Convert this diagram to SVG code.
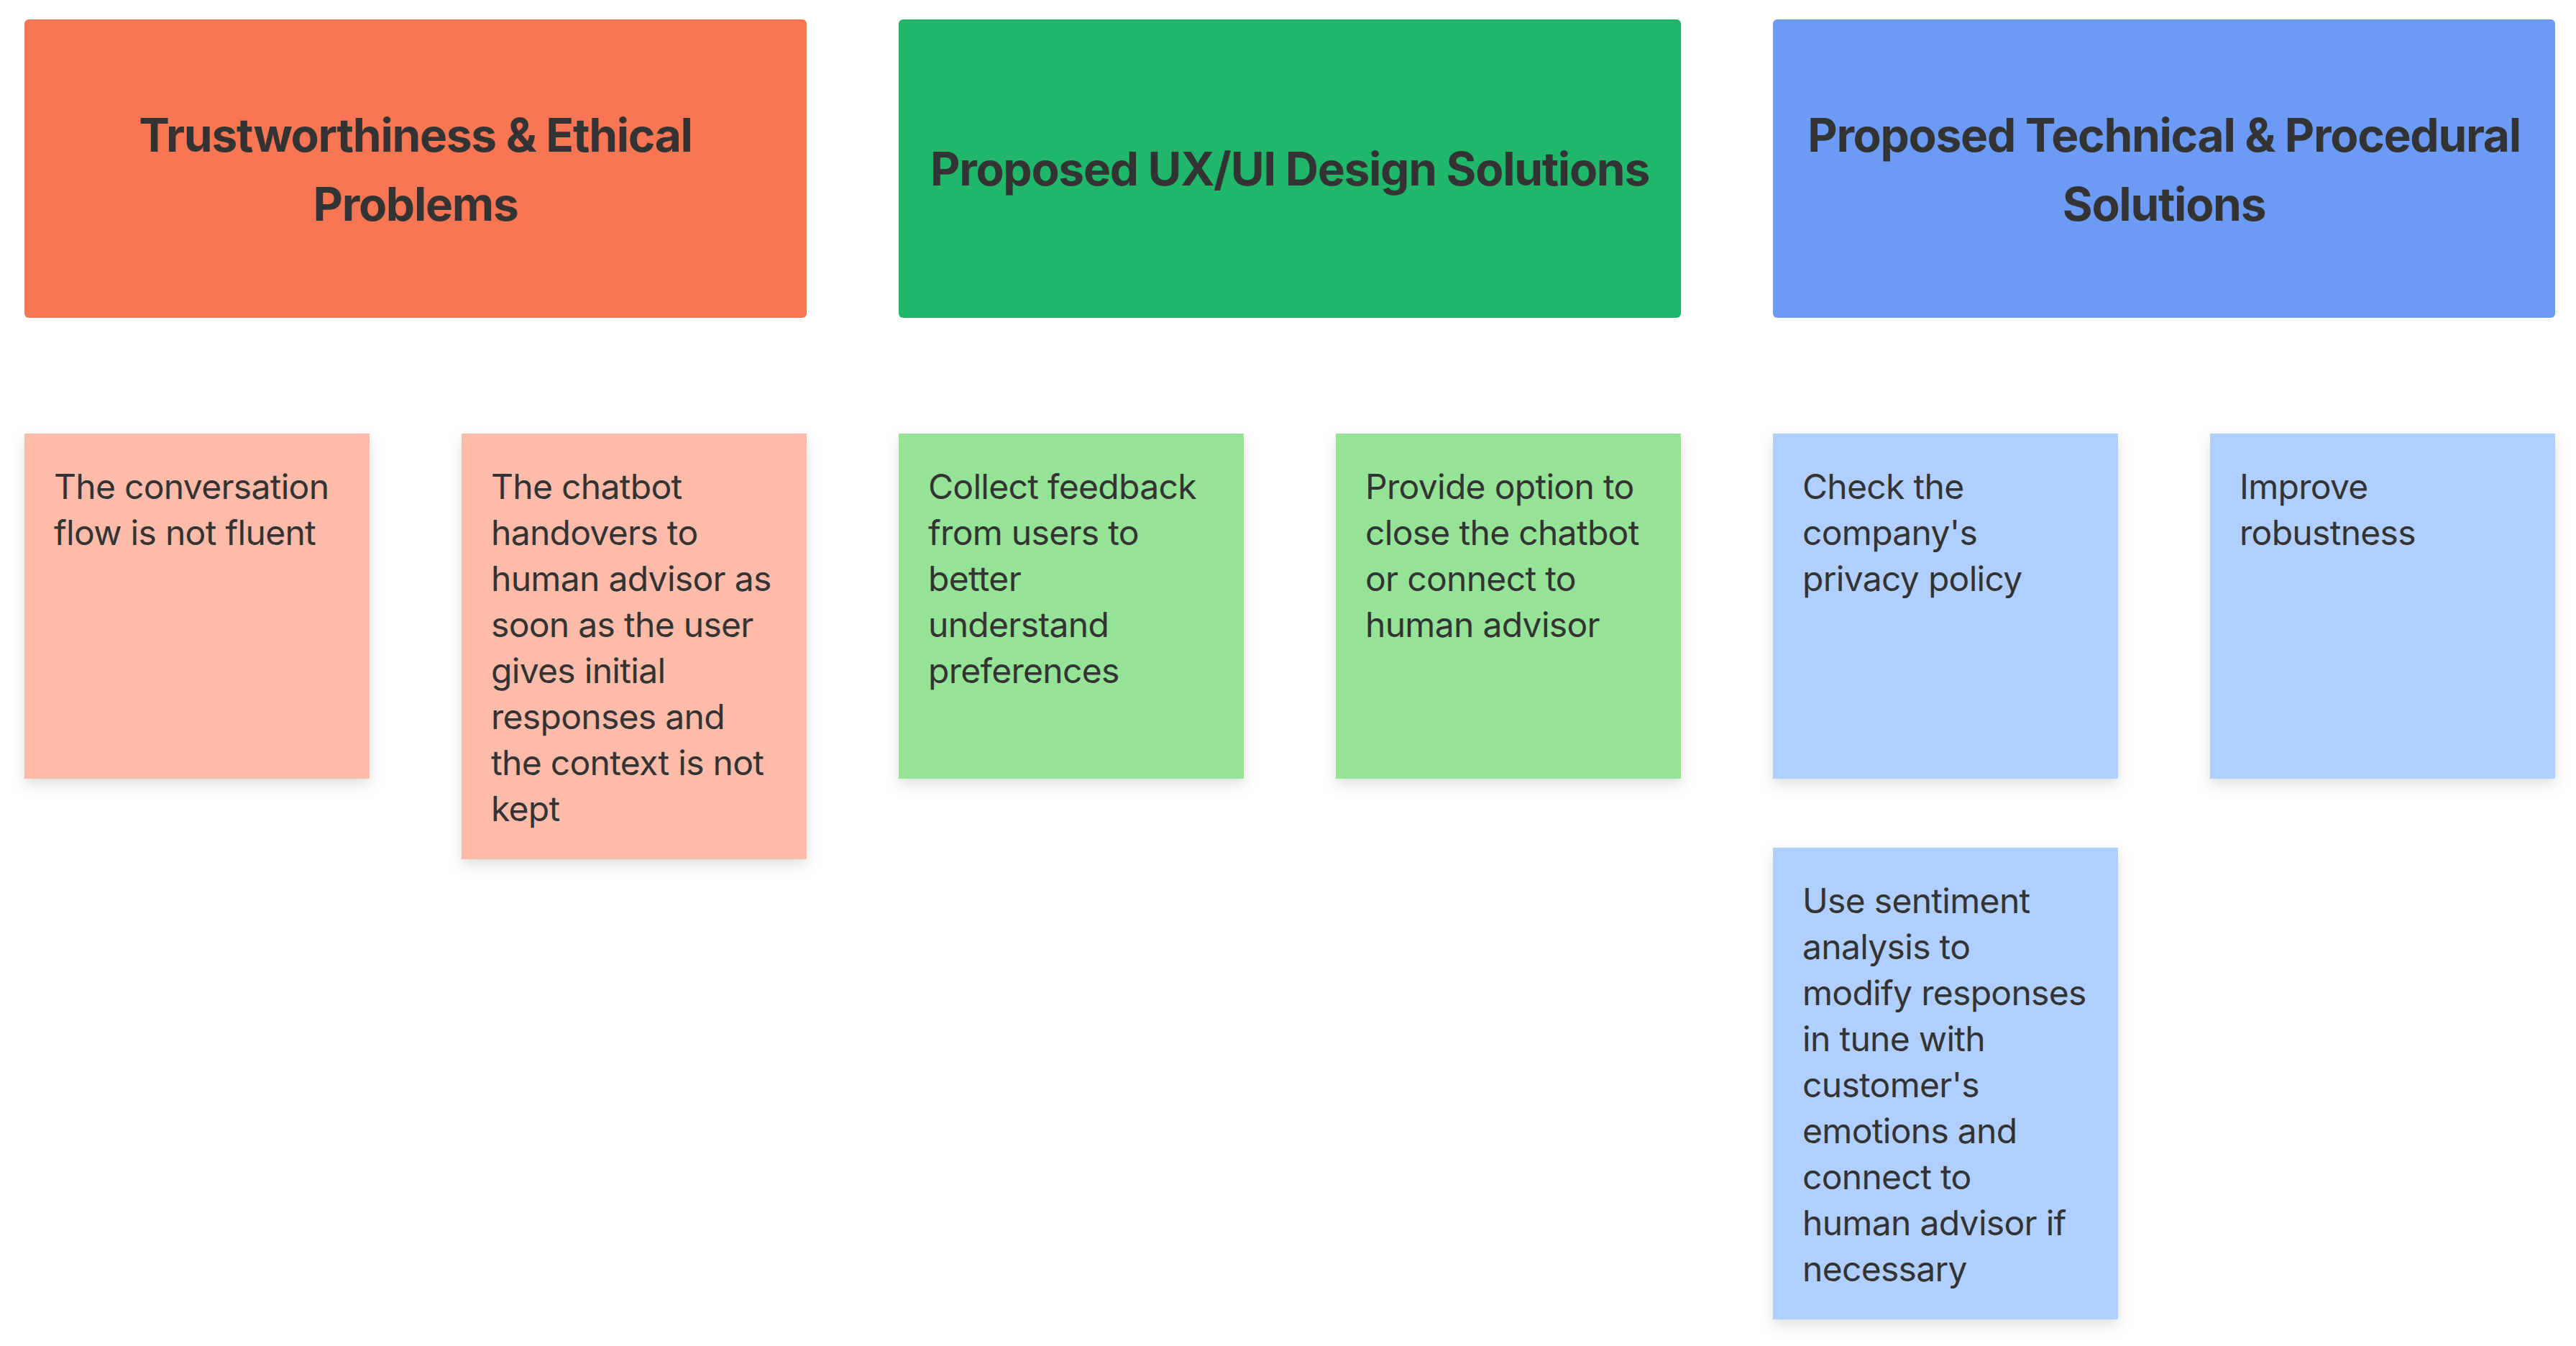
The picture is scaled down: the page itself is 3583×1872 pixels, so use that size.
<svg xmlns="http://www.w3.org/2000/svg" width="3583" height="1872" viewBox="0 0 3583 1872">
<style>
.hdr{font-family:Inter,"Noto Sans","Liberation Sans",sans-serif;font-weight:700;font-size:64px;fill:#333333;text-anchor:middle;letter-spacing:-1.3px}
.txt{font-family:Inter,"Noto Sans","Liberation Sans",sans-serif;font-weight:400;font-size:48px;fill:#333333;letter-spacing:-0.7px}
.pink{fill:#FDBBAA}
.green{fill:#94E396}
.blue{fill:#B0CFFE}
</style>
<defs>
<filter id="sh" x="-10%" y="-10%" width="120%" height="130%">
<feDropShadow dx="0" dy="8" stdDeviation="9" flood-color="#000000" flood-opacity="0.13"/>
</filter>
</defs>
<rect width="3583" height="1872" fill="#FFFFFF"/>
<g id="connectors"></g>
<g id="header-problems">
<rect x="34" y="27" width="1088" height="415" rx="6" fill="#F97654"/>
<text class="hdr" x="578" y="211">Trustworthiness &amp; Ethical</text>
<text class="hdr" x="578" y="307">Problems</text>
</g>
<g id="header-ux">
<rect x="1250" y="27" width="1088" height="415" rx="6" fill="#20B76A"/>
<text class="hdr" x="1794" y="258">Proposed UX/UI Design Solutions</text>
</g>
<g id="header-tech">
<rect x="2466" y="27" width="1088" height="415" rx="6" fill="#6B9BF5"/>
<text class="hdr" x="3010" y="211">Proposed Technical &amp; Procedural</text>
<text class="hdr" x="3010" y="307">Solutions</text>
</g>
<g id="note-flow">
<rect class="pink" x="34" y="603" width="480" height="480" filter="url(#sh)"/>
<text class="txt" x="75" y="694"><tspan x="75">The conversation</tspan><tspan x="75" dy="64">flow is not fluent</tspan></text>
</g>
<g id="note-handover">
<rect class="pink" x="642" y="603" width="480" height="592" filter="url(#sh)"/>
<text class="txt" x="683" y="694"><tspan x="683">The chatbot</tspan><tspan x="683" dy="64">handovers to</tspan><tspan x="683" dy="64">human advisor as</tspan><tspan x="683" dy="64">soon as the user</tspan><tspan x="683" dy="64">gives initial</tspan><tspan x="683" dy="64">responses and</tspan><tspan x="683" dy="64">the context is not</tspan><tspan x="683" dy="64">kept</tspan></text>
</g>
<g id="note-feedback">
<rect class="green" x="1250" y="603" width="480" height="480" filter="url(#sh)"/>
<text class="txt" x="1291" y="694"><tspan x="1291">Collect feedback</tspan><tspan x="1291" dy="64">from users to</tspan><tspan x="1291" dy="64">better</tspan><tspan x="1291" dy="64">understand</tspan><tspan x="1291" dy="64">preferences</tspan></text>
</g>
<g id="note-close">
<rect class="green" x="1858" y="603" width="480" height="480" filter="url(#sh)"/>
<text class="txt" x="1899" y="694"><tspan x="1899">Provide option to</tspan><tspan x="1899" dy="64">close the chatbot</tspan><tspan x="1899" dy="64">or connect to</tspan><tspan x="1899" dy="64">human advisor</tspan></text>
</g>
<g id="note-privacy">
<rect class="blue" x="2466" y="603" width="480" height="480" filter="url(#sh)"/>
<text class="txt" x="2507" y="694"><tspan x="2507">Check the</tspan><tspan x="2507" dy="64">company's</tspan><tspan x="2507" dy="64">privacy policy</tspan></text>
</g>
<g id="note-robust">
<rect class="blue" x="3074" y="603" width="480" height="480" filter="url(#sh)"/>
<text class="txt" x="3115" y="694"><tspan x="3115">Improve</tspan><tspan x="3115" dy="64">robustness</tspan></text>
</g>
<g id="note-sentiment">
<rect class="blue" x="2466" y="1179" width="480" height="656" filter="url(#sh)"/>
<text class="txt" x="2507" y="1270"><tspan x="2507">Use sentiment</tspan><tspan x="2507" dy="64">analysis to</tspan><tspan x="2507" dy="64">modify responses</tspan><tspan x="2507" dy="64">in tune with</tspan><tspan x="2507" dy="64">customer's</tspan><tspan x="2507" dy="64">emotions and</tspan><tspan x="2507" dy="64">connect to</tspan><tspan x="2507" dy="64">human advisor if</tspan><tspan x="2507" dy="64">necessary</tspan></text>
</g>
</svg>
